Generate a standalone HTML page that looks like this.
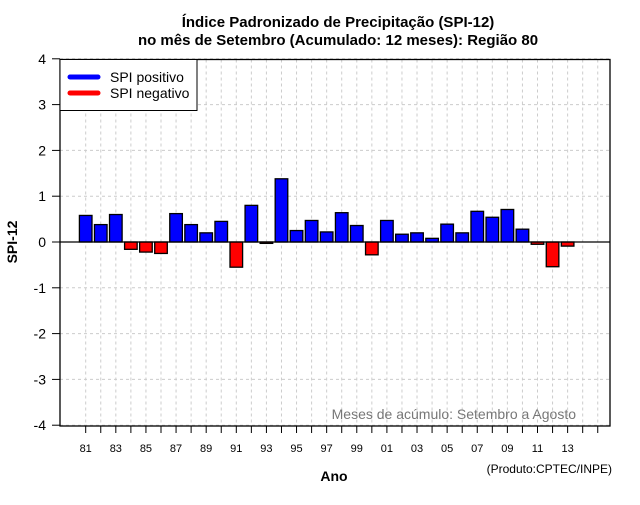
<!DOCTYPE html>
<html><head><meta charset="utf-8"><style>
body{margin:0;background:#fff;}
svg text{font-family:"Liberation Sans",sans-serif;}
</style></head><body>
<svg width="640" height="500" xmlns="http://www.w3.org/2000/svg">
<rect width="640" height="500" fill="#fff"/>
<text x="338" y="27" text-anchor="middle" font-size="15" font-weight="bold">Índice Padronizado de Precipitação (SPI-12)</text>
<text x="338" y="45" text-anchor="middle" font-size="15" font-weight="bold">no mês de Setembro (Acumulado: 12 meses): Região 80</text>
<g id="grid"></g>
<g id="bars"></g>
<g id="axes"></g>
<text x="17" y="242" text-anchor="middle" font-size="14" font-weight="bold" transform="rotate(-90 17 242)">SPI-12</text>
<text x="334" y="481" text-anchor="middle" font-size="14" font-weight="bold">Ano</text>
<text x="612" y="473" text-anchor="end" font-size="12">(Produto:CPTEC/INPE)</text>
<text x="576" y="419" text-anchor="end" font-size="14" fill="#777">Meses de acúmulo: Setembro a Agosto</text>
<g>
<rect x="60" y="59.5" width="137" height="51" fill="#fff" stroke="#000"/>
<line x1="70" y1="77" x2="98" y2="77" stroke="#00f" stroke-width="5" stroke-linecap="round"/>
<text x="110" y="82" font-size="14">SPI positivo</text>
<line x1="70" y1="93" x2="98" y2="93" stroke="#f00" stroke-width="5" stroke-linecap="round"/>
<text x="110" y="98" font-size="14">SPI negativo</text>
</g>
</svg>
<script>
const years=[1981,1982,1983,1984,1985,1986,1987,1988,1989,1990,1991,1992,1993,1994,1995,1996,1997,1998,1999,2000,2001,2002,2003,2004,2005,2006,2007,2008,2009,2010,2011,2012,2013];
const spiValues=[0.58,0.38,0.60,-0.16,-0.22,-0.25,0.62,0.38,0.20,0.45,-0.55,0.80,-0.03,1.38,0.25,0.47,0.22,0.64,0.36,-0.28,0.47,0.17,0.20,0.08,0.39,0.20,0.67,0.54,0.71,0.28,-0.05,-0.54,-0.09];
const yTicks=[-4,-3,-2,-1,0,1,2,3,4];
const tickYears=[1981,1982,1983,1984,1985,1986,1987,1988,1989,1990,1991,1992,1993,1994,1995,1996,1997,1998,1999,2000,2001,2002,2003,2004,2005,2006,2007,2008,2009,2010,2011,2012,2013,2014,2015];
const ns="http://www.w3.org/2000/svg";
const L=60,R=610,T=59.5,B=426;
function xs(y){return 85.7+(y-1981)*15.06;}
function ys(v){return 242-v*45.8;}
function mk(tag,attrs,parent){const e=document.createElementNS(ns,tag);for(const k in attrs)e.setAttribute(k,attrs[k]);parent.appendChild(e);return e;}
const grid=document.getElementById('grid'),bars=document.getElementById('bars'),axes=document.getElementById('axes');
yTicks.forEach(v=>{
 const g=mk('line',{x1:L,x2:R,y1:ys(v),y2:ys(v),stroke:'#ccc','stroke-dasharray':'3,3'},grid);
 
 
 const t=mk('line',{x1:52,x2:L,y1:ys(v),y2:ys(v),stroke:'#000'},axes);
 
 
 const tx=mk('text',{x:46,y:ys(v)+5,'text-anchor':'end','font-size':'14'},axes);
 tx.textContent=v;
 
 
});
tickYears.forEach(y=>{
 const g=mk('line',{x1:xs(y),x2:xs(y),y1:T,y2:B,stroke:'#ccc','stroke-dasharray':'3,3'},grid);
 
 
 const t=mk('line',{x1:xs(y),x2:xs(y),y1:B,y2:B+7,stroke:'#000'},axes);
 
 
 if((y-1981)%2===0&&y<=2013){
  const tx=mk('text',{x:xs(y),y:452,'text-anchor':'middle','font-size':'11'},axes);
  tx.textContent=String(y%100).padStart(2,'0');
  
  
 }
});
years.forEach((y,i)=>{
 const v=spiValues[i];
 const y0=ys(0),y1=ys(v);
 const r=mk('rect',{x:xs(y)-6.3,y:Math.min(y0,y1),width:12.6,height:Math.max(Math.abs(y1-y0),1),fill:v>=0?'#00f':'#f00',stroke:'#000','stroke-width':'1.3'},bars);
 
 
});
const z=mk('line',{x1:L,x2:R,y1:ys(0),y2:ys(0),stroke:'#000','stroke-width':'1.3'},axes);


const fr=mk('rect',{x:L,y:T,width:R-L,height:B-T,fill:'none',stroke:'#000','stroke-width':'1.3'},axes);


</script>
</body></html>
